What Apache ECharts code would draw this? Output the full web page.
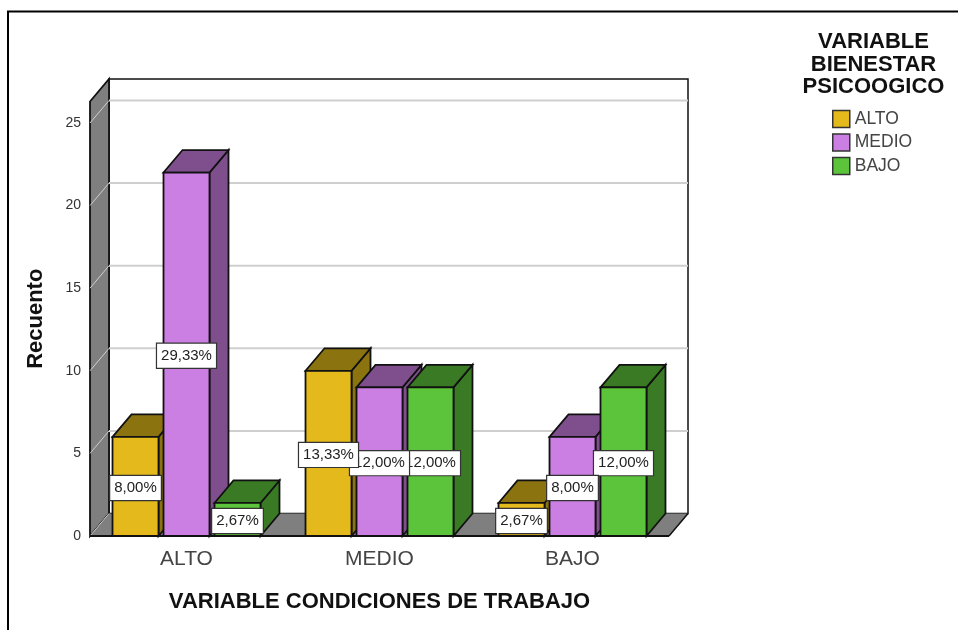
<!DOCTYPE html>
<html><head><meta charset="utf-8">
<style>html,body{margin:0;padding:0;background:#fff}#c{width:958px;height:630px}</style>
<script src="https://cdn.jsdelivr.net/npm/echarts@6/dist/echarts.min.js"></script>
</head><body><div id="c"></div>
<script>
const categories = ['ALTO', 'MEDIO', 'BAJO'];
const yTicks = [0, 5, 10, 15, 20, 25];
const seriesNames = ['ALTO', 'MEDIO', 'BAJO'];
const altoValues = [6, 10, 2];
const medioValues = [22, 9, 6];
const bajoValues = [2, 9, 9];
const altoLabels = ['8,00%', '13,33%', '2,67%'];
const medioLabels = ['29,33%', '12,00%', '8,00%'];
const bajoLabels = ['2,67%', '12,00%', '12,00%'];
const frontColors = ['#E3B91C', '#CB7FE3', '#5CC43A'];
const shadeColors = ['#8B7410', '#7E4F8C', '#3A7A25'];

const DX = 19, DY = 22.5, LINE = '#111', WALL = '#7F7F7F', GRID = '#CFCFCF';
const FONT = '"Liberation Sans", Arial, sans-serif';

function poly(points, fill, z2, stroke, lw) {
  return { type: 'polygon', z2, shape: { points },
    style: { fill, stroke: stroke || LINE, lineWidth: lw === undefined ? 1.8 : lw } };
}
function wallsRender(params, api) {
  const cs = params.coordSys;
  const L = cs.x, R = cs.x + cs.width, T = cs.y, B = cs.y + cs.height;
  const kids = [
    { type: 'rect', z2: 0, shape: { x: L + DX, y: T - DY, width: cs.width, height: cs.height },
      style: { fill: '#fff', stroke: LINE, lineWidth: 1.5 } },
    poly([[L, T], [L + DX, T - DY], [L + DX, B - DY], [L, B]], WALL, 1),
    poly([[L, B], [L + DX, B - DY], [R + DX, B - DY], [R, B]], WALL, 1, WALL, 0)
  ];
  yTicks.forEach(v => {
    const y = api.coord([0, v])[1];
    if (v > 0) kids.push({ type: 'line', z2: 2, shape: { x1: L + DX, y1: y - DY, x2: R + DX, y2: y - DY },
      style: { stroke: GRID, lineWidth: 2 } });
    kids.push({ type: 'line', z2: 2, shape: { x1: L, y1: y, x2: L + DX, y2: y - DY },
      style: { stroke: GRID, lineWidth: 1 } });
  });
  kids.push({ type: 'line', z2: 3, shape: { x1: L, y1: B, x2: R, y2: B }, style: { stroke: LINE, lineWidth: 1.8 } });
  kids.push({ type: 'line', z2: 3, shape: { x1: R, y1: B, x2: R + DX, y2: B - DY }, style: { stroke: LINE, lineWidth: 1.5 } });
  return { type: 'group', children: kids };
}
function barRender(si, labels) {
  return function (params, api) {
    const base = api.coord([api.value(0), 0]);
    const top = api.coord([api.value(0), api.value(1)]);
    const band = api.size([1, 0])[0];
    const w = band * 0.2383, step = band * 0.2642;
    const x0 = base[0] + (si - 1) * step - w / 2, x1 = x0 + w;
    const yb = base[1], yt = top[1], z = 10 + si;
    const kids = [
      poly([[x1, yt], [x1 + DX, yt - DY], [x1 + DX, yb - DY], [x1, yb]], shadeColors[si], z),
      poly([[x0, yt], [x0 + DX, yt - DY], [x1 + DX, yt - DY], [x1, yt]], shadeColors[si], z),
      poly([[x0, yt], [x1, yt], [x1, yb], [x0, yb]], frontColors[si], z),
      { type: 'text', z2: 100 - si, style: {
          text: labels[params.dataIndex], x: (x0 + x1) / 2, y: (yt + yb) / 2 + 1.5,
          align: 'center', verticalAlign: 'middle', fill: '#222',
          font: '15px ' + FONT, backgroundColor: '#fff', borderColor: '#333', borderWidth: 1.2,
          padding: [5, 4, 4, 4] } }
    ];
    return { type: 'group', children: kids };
  };
}
function barSeries(si, values, labels) {
  return {
    type: 'custom', name: seriesNames[si], coordinateSystem: 'cartesian2d', z: 3, clip: false,
    renderItem: barRender(si, labels), itemStyle: { color: frontColors[si] },
    encode: { x: 0, y: 1 },
    data: values.map((v, i) => [i, v])
  };
}
const chart = echarts.init(document.getElementById('c'), null, { renderer: 'canvas' });
chart.setOption({
  animation: false,
  backgroundColor: '#fff',
  graphic: [{ type: 'polyline', silent: true, shape: { points: [[8, 630], [8, 11.5], [958, 11.5]] },
    style: { stroke: '#000', lineWidth: 2, fill: null } }],
  title: { text: 'VARIABLE\nBIENESTAR\nPSICOOGICO', left: 868.5, top: 26, textAlign: 'center',
    textStyle: { fontFamily: FONT, fontWeight: 'bold', fontSize: 22, lineHeight: 22.5, color: '#111' } },
  legend: { data: seriesNames, orient: 'vertical', left: 832, top: 109.5, padding: 0,
    itemWidth: 17, itemHeight: 17, itemGap: 4.5, icon: 'rect', selectedMode: false,
    itemStyle: { borderColor: '#333', borderWidth: 1.5 },
    textStyle: { fontFamily: FONT, fontSize: 17.5, lineHeight: 17, color: '#444', padding: [2, 0, 0, 0] } },
  grid: { left: 90, right: 289, top: 101.5, bottom: 94, containLabel: false },
  xAxis: { type: 'category', data: categories, name: 'VARIABLE CONDICIONES DE TRABAJO',
    nameLocation: 'middle', nameGap: 55,
    nameTextStyle: { fontFamily: FONT, fontWeight: 'bold', fontSize: 22, color: '#111' },
    axisLine: { show: false }, axisTick: { show: false },
    axisLabel: { fontFamily: FONT, fontSize: 21, color: '#444', margin: 13 } },
  yAxis: { type: 'value', min: 0, max: 26.3, interval: 5, name: 'Recuento',
    nameLocation: 'middle', nameGap: 43, nameRotate: 90,
    nameTextStyle: { fontFamily: FONT, fontWeight: 'bold', fontSize: 22, color: '#111' },
    axisLine: { show: false }, axisTick: { show: false }, splitLine: { show: false },
    axisLabel: { fontFamily: FONT, fontSize: 14, color: '#333', margin: 9, showMaxLabel: false, padding: [8, 0, 0, 0] } },
  series: [
    { type: 'custom', name: 'walls', coordinateSystem: 'cartesian2d', z: 1, clip: false,
      renderItem: wallsRender, silent: true, data: [[0, 0]] },
    barSeries(0, altoValues, altoLabels),
    barSeries(1, medioValues, medioLabels),
    barSeries(2, bajoValues, bajoLabels)
  ]
});
</script></body></html>
